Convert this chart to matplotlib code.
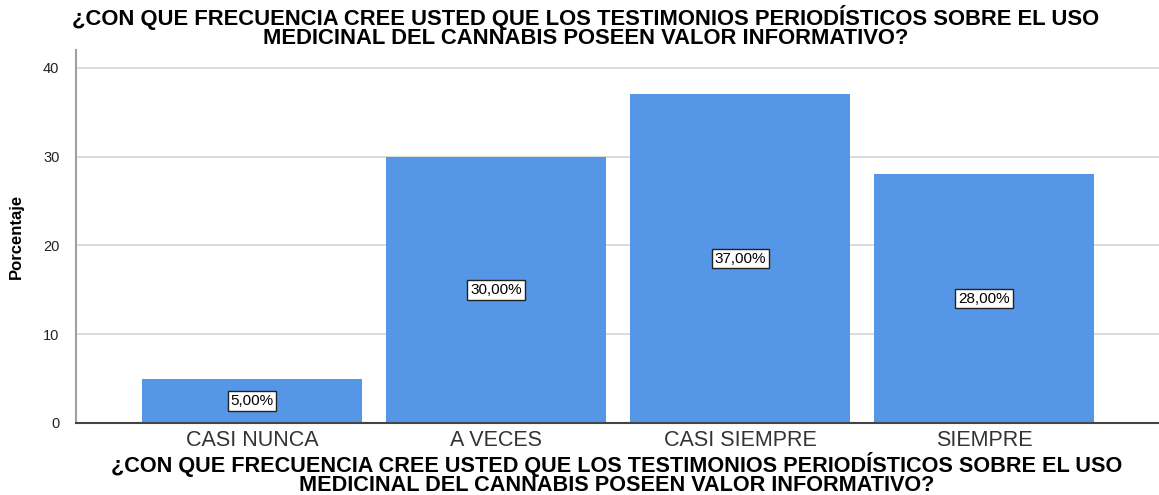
import matplotlib
matplotlib.use("Agg")
import matplotlib.pyplot as plt

# data
categorias = ["CASI NUNCA", "A VECES", "CASI SIEMPRE", "SIEMPRE"]
porcentajes = [5.0, 30.0, 37.0, 28.0]
etiquetas = ["5,00%", "30,00%", "37,00%", "28,00%"]
y_ticks = [0, 10, 20, 30, 40]

titulo = ("¿CON QUE FRECUENCIA CREE USTED QUE LOS TESTIMONIOS PERIODÍSTICOS SOBRE EL USO\n"
          "MEDICINAL DEL CANNABIS POSEEN VALOR INFORMATIVO?")

plt.rcParams['font.family'] = ['Liberation Sans', 'DejaVu Sans']

fig = plt.figure(figsize=(11.59, 4.95), dpi=100)
ax = fig.add_axes([0.0656, 0.1455, 0.9344, 0.7535])

x = range(len(categorias))
ax.bar(x, porcentajes, width=0.9, color='#5596e6', zorder=2)

for i, (v, t) in enumerate(zip(porcentajes, etiquetas)):
    ax.text(i, v / 2, t, ha='center', va='center', fontsize=11, color='black', zorder=3,
            bbox=dict(boxstyle='square,pad=0.18', facecolor='white', edgecolor='#222222', linewidth=1))

ax.set_xlim(-0.721, 3.717)
ax.set_ylim(0, 42)
ax.set_yticks(y_ticks)
ax.set_xticks(list(x))
ax.set_xticklabels(categorias, fontsize=15.5, color='#333333')
ax.tick_params(axis='x', length=0, pad=5)
ax.tick_params(axis='y', length=0, pad=12, labelsize=10.5, colors='#222222')
ax.yaxis.grid(True, color='#d4d4d4', linewidth=1.2, zorder=0)
ax.set_axisbelow(True)

for s in ['top', 'right']:
    ax.spines[s].set_visible(False)
ax.spines['left'].set_color('#a0a0a0')
ax.spines['left'].set_linewidth(1.5)
ax.spines['bottom'].set_color('#444444')
ax.spines['bottom'].set_linewidth(1.5)

ax.set_ylabel("Porcentaje", fontsize=12, fontweight='bold', labelpad=14)

# x-axis title (same text as the chart title), centred under the plot area
fig.text(0.532, 0.008, titulo, ha='center', va='baseline', fontsize=15.6, fontweight='bold',
         linespacing=0.86)

fig.text(0.505, 0.99, titulo, ha='center', va='top', fontsize=15.8, fontweight='bold',
         linespacing=0.86)

fig.savefig("out.png", dpi=100)
